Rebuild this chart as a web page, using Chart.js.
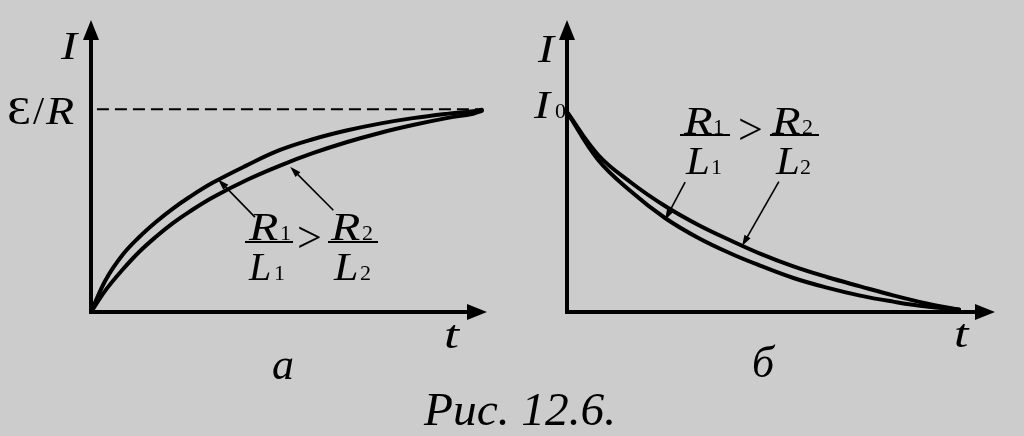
<!DOCTYPE html>
<html><head><meta charset="utf-8">
<script src="https://cdn.jsdelivr.net/npm/chart.js@4.4.1/dist/chart.umd.min.js"></script>
<style>
html,body{margin:0;padding:0;background:#cccccc;}
#wrap{position:relative;width:1024px;height:436px;overflow:hidden;background:#cccccc;}
.pane{position:absolute;top:0;width:512px;height:436px;}
.t{position:absolute;font-family:"Liberation Serif","Times New Roman",serif;color:#000;white-space:nowrap;line-height:1;transform-origin:left center;}
.i{font-style:italic;}
.bar{position:absolute;height:2px;background:#000;}
</style></head><body>
<div id="wrap">
  <div class="pane" style="left:0"><canvas id="cA" width="512" height="436"></canvas></div>
  <div class="pane" style="left:512px"><canvas id="cB" width="512" height="436"></canvas></div>

  <!-- panel a -->
  <div class="t i" style="left:61px;top:25.5px;font-size:40px;transform:scaleX(1.2)">I</div>
  <div class="t" style="left:7px;top:90.5px;font-size:40px;transform:scaleX(1.2)">Ɛ</div>
  <div class="t" style="left:33px;top:90.5px;font-size:40px">/</div>
  <div class="t i" style="left:46px;top:90.5px;font-size:40px;transform:scaleX(1.15)">R</div>

  <div class="t i" style="left:249px;top:206.5px;font-size:40px;transform:scaleX(1.2)">R</div>
  <div class="t" style="left:280px;top:221.6px;font-size:22px">1</div>
  <div class="bar" style="left:245px;top:241px;width:48px"></div>
  <div class="t i" style="left:249px;top:246.5px;font-size:40px">L</div>
  <div class="t" style="left:274px;top:261.6px;font-size:22px">1</div>
  <div class="t" style="left:297px;top:215.6px;font-size:44px">&gt;</div>
  <div class="t i" style="left:331px;top:206.5px;font-size:40px;transform:scaleX(1.2)">R</div>
  <div class="t" style="left:362px;top:221.6px;font-size:22px">2</div>
  <div class="bar" style="left:328px;top:241px;width:50px"></div>
  <div class="t i" style="left:334px;top:246.5px;font-size:40px;transform:scaleX(1.1)">L</div>
  <div class="t" style="left:360px;top:261.6px;font-size:22px">2</div>

  <div class="t i" style="left:444px;top:314.5px;font-size:40px;transform:scaleX(1.35)">t</div>
  <div class="t i" style="left:272px;top:343px;font-size:44px">а</div>

  <!-- panel б -->
  <div class="t i" style="left:538px;top:28.5px;font-size:40px;transform:scaleX(1.2)">I</div>
  <div class="t i" style="left:534px;top:84.5px;font-size:40px;transform:scaleX(1.2)">I</div>
  <div class="t" style="left:555px;top:99.6px;font-size:22px">0</div>

  <div class="t i" style="left:684px;top:100.5px;font-size:39px;transform:scaleX(1.2)">R</div>
  <div class="t" style="left:713px;top:115.6px;font-size:22px">1</div>
  <div class="bar" style="left:680px;top:134px;width:50px"></div>
  <div class="t i" style="left:686px;top:140.5px;font-size:39px;transform:scaleX(1.1)">L</div>
  <div class="t" style="left:711px;top:155.6px;font-size:22px">1</div>
  <div class="t" style="left:738px;top:108px;font-size:44px">&gt;</div>
  <div class="t i" style="left:772px;top:100.5px;font-size:39px;transform:scaleX(1.2)">R</div>
  <div class="t" style="left:802px;top:115.6px;font-size:22px">2</div>
  <div class="bar" style="left:770px;top:134px;width:49px"></div>
  <div class="t i" style="left:776px;top:140.5px;font-size:39px;transform:scaleX(1.1)">L</div>
  <div class="t" style="left:800px;top:155.6px;font-size:22px">2</div>

  <div class="t i" style="left:954px;top:313.5px;font-size:40px;transform:scaleX(1.3)">t</div>
  <div class="t i" style="left:752px;top:341px;font-size:44px">б</div>

  <div class="t i" style="left:424px;top:386.5px;font-size:46px;transform:scaleX(1.03)">Рис. 12.6.</div>
</div>
<script>
// ---- panel a: current growth I(t), I in units of ε/R ----
const timeA = [0, 0.37, 0.79, 1.22, 1.64, 2.06, 2.48, 3.07, 3.92, 4.76, 5.60, 6.45, 7.29, 8.13, 8.98, 9.65, 9.87];
const currentA1 = [0, 0.158, 0.280, 0.370, 0.444, 0.509, 0.566, 0.637, 0.722, 0.798, 0.852, 0.895, 0.929, 0.956, 0.977, 0.990, 0.997]; // R1/L1
const currentA2 = [0, 0.108, 0.207, 0.297, 0.371, 0.437, 0.494, 0.565, 0.650, 0.721, 0.783, 0.837, 0.883, 0.922, 0.956, 0.978, 0.992]; // R2/L2
const levelTimeA = [0.15, 9.87];
const levelA = [1, 1]; // ε/R
// pointer arrows [fromT, fromI, toT, toI]
const pointersA = [[4.14, 0.468, 3.21, 0.654], [6.12, 0.502, 5.03, 0.716]];

// ---- panel b: current decay I(t), I in units of I0 ----
const timeB = [0, 0.73, 1.51, 2.29, 3.07, 3.85, 4.51, 5.29, 6.07, 6.85, 7.62, 8.40, 9.16];
const currentB1 = [1, 0.76, 0.60, 0.47, 0.37, 0.29, 0.232, 0.170, 0.122, 0.082, 0.052, 0.027, 0.012]; // R1/L1
const currentB2 = [1, 0.785, 0.645, 0.53, 0.435, 0.355, 0.292, 0.228, 0.175, 0.128, 0.083, 0.043, 0.012]; // R2/L2
const pointersB = [[2.76, 0.649, 2.29, 0.46], [4.95, 0.652, 4.09, 0.33]];

const pts = (xs, ys) => xs.map((x, k) => ({x: x, y: ys[k]}));

function head(ctx, x1, y1, x2, y2, len, w) {
  const a = Math.atan2(y2 - y1, x2 - x1);
  const bx = x2 - len * Math.cos(a), by = y2 - len * Math.sin(a);
  ctx.beginPath();
  ctx.moveTo(x2, y2);
  ctx.lineTo(bx + w / 2 * Math.sin(a), by - w / 2 * Math.cos(a));
  ctx.lineTo(bx - w / 2 * Math.sin(a), by + w / 2 * Math.cos(a));
  ctx.closePath();
  ctx.fill();
}

const axesPlugin = {
  id: 'axesArrows',
  beforeDatasetsDraw(chart) {
    const ctx = chart.ctx, ca = chart.chartArea;
    const xs = chart.scales.x, ys = chart.scales.y;
    const x0 = xs.getPixelForValue(0), y0 = ys.getPixelForValue(0);
    ctx.save();
    ctx.strokeStyle = '#000'; ctx.fillStyle = '#000';
    ctx.lineWidth = 4; ctx.lineCap = 'butt';
    ctx.beginPath();
    ctx.moveTo(x0, y0 + 2); ctx.lineTo(x0, ca.top + 16);
    ctx.moveTo(x0 - 2, y0); ctx.lineTo(ca.right - 16, y0);
    ctx.stroke();
    head(ctx, x0, y0, x0, ca.top, 20, 16);
    head(ctx, x0, y0, ca.right, y0, 20, 16);
    ctx.restore();
  },
  afterDatasetsDraw(chart, args, opts) {
    const ctx = chart.ctx;
    const xs = chart.scales.x, ys = chart.scales.y;
    ctx.save();
    ctx.strokeStyle = '#000'; ctx.fillStyle = '#000'; ctx.lineWidth = 1.6;
    (opts.pointers || []).forEach(p => {
      const x1 = xs.getPixelForValue(p[0]), y1 = ys.getPixelForValue(p[1]);
      const x2 = xs.getPixelForValue(p[2]), y2 = ys.getPixelForValue(p[3]);
      const a = Math.atan2(y2 - y1, x2 - x1);
      ctx.beginPath(); ctx.moveTo(x1, y1);
      ctx.lineTo(x2 - 6 * Math.cos(a), y2 - 6 * Math.sin(a)); ctx.stroke();
      head(ctx, x1, y1, x2, y2, 11, 7);
    });
    ctx.restore();
  }
};

function curve(data, extra) {
  return Object.assign({
    data: data, borderColor: '#000', borderWidth: 4, pointRadius: 0,
    fill: false, tension: 0.4, borderCapStyle: 'round', borderJoinStyle: 'round'
  }, extra || {});
}

function makeChart(id, datasets, pad, ymax, pointers) {
  return new Chart(document.getElementById(id), {
    type: 'line',
    data: {datasets: datasets},
    options: {
      responsive: false, animation: false, devicePixelRatio: 1,
      layout: {padding: pad},
      plugins: {legend: {display: false}, title: {display: false}, tooltip: {enabled: false},
        axesArrows: {pointers: pointers}},
      scales: {
        x: {type: 'linear', min: 0, max: 10, display: false},
        y: {type: 'linear', min: 0, max: ymax, display: false}
      }
    },
    plugins: [axesPlugin]
  });
}

makeChart('cA', [
  curve(pts(levelTimeA, levelA), {borderWidth: 2, borderDash: [12, 6], tension: 0, borderCapStyle: 'butt'}),
  curve(pts(timeA, currentA1)),
  curve(pts(timeA, currentA2))
], {left: 91, right: 25, top: 20, bottom: 124}, 1.44, pointersA);

makeChart('cB', [
  curve(pts(timeB, currentB1)),
  curve(pts(timeB, currentB2))
], {left: 55, right: 29, top: 20, bottom: 124}, 1.46, pointersB);
</script>
</body></html>
